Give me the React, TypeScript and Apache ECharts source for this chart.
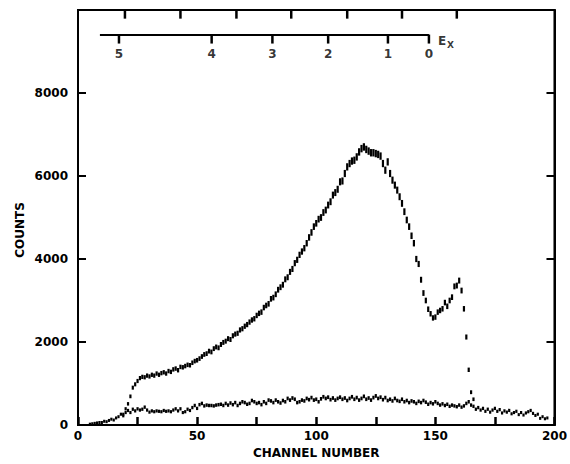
import React, { useEffect, useRef } from "react";
import * as echarts from "echarts";

// Upper spectrum: channel 19 .. 166
const UPPER_START = 19;
const upperCounts = [
  260, 390, 510, 690, 900, 980, 1060, 1130, 1160, 1150, 1190, 1170, 1210, 1190, 1240, 1210,
  1250, 1270, 1240, 1300, 1280, 1340, 1360, 1320, 1400, 1390, 1420, 1450, 1440, 1500, 1540,
  1560, 1600, 1650, 1700, 1720, 1780, 1760, 1840, 1880, 1860, 1940, 1990, 2020, 2080, 2060,
  2150, 2190, 2210, 2290, 2320, 2380, 2420, 2480, 2530, 2560, 2640, 2690, 2720, 2830, 2880,
  2920, 3040, 3070, 3150, 3260, 3320, 3380, 3510, 3560, 3690, 3760, 3900, 3980, 4100, 4180,
  4260, 4380, 4520, 4640, 4780, 4860, 4960, 5000, 5120, 5180, 5300, 5380, 5540, 5600, 5680,
  5860, 5880, 6060, 6220, 6300, 6360, 6380, 6460, 6580, 6660, 6700, 6640, 6600, 6560, 6560,
  6540, 6520, 6480, 6300, 6140, 6340, 6060, 5900, 5780, 5660, 5500, 5340, 5140, 4940, 4780,
  4560, 4380, 4000, 3880, 3500, 3180, 3000, 2790, 2680, 2580, 2600, 2720, 2760, 2800, 2950,
  2860, 3000, 3080, 3340, 3360, 3480, 3240, 2800, 2120, 1330, 790, 620,
];

// Lower spectrum: channel 5 .. 197
const LOWER_START = 5;
const lowerCounts = [
  20, 30, 40, 50, 60, 60, 90, 80, 110, 140, 120, 170, 200, 260, 220, 300, 350, 300, 380, 340,
  390, 360, 380, 430, 360, 310, 340, 320, 340, 330, 320, 350, 330, 340, 320, 360, 390, 340,
  390, 300, 320, 380, 350, 420, 470, 400, 490, 520, 460, 480, 470, 470, 460, 480, 490, 500,
  470, 520, 480, 530, 490, 540, 470, 520, 560, 540, 500, 520, 590, 560, 520, 540, 490, 560,
  520, 600, 580, 540, 600, 560, 530, 590, 560, 640, 600, 650, 620, 540, 560, 600, 580, 640,
  610, 660, 600, 620, 560, 630, 680, 640, 670, 610, 650, 600, 640, 670, 620, 650, 590, 640,
  680, 620, 660, 600, 640, 690, 620, 650, 600, 660, 700, 640, 670, 610, 660, 590, 620, 580,
  640, 590, 570, 620, 560, 590, 540, 580, 560, 520, 570, 540, 590, 550, 500, 540, 510, 560,
  520, 480, 510, 470, 500, 450, 480, 460, 440, 480, 430, 460, 520, 560, 480, 450, 380, 420,
  360, 400, 330, 380, 310, 360, 400, 330, 370, 290, 340, 310, 350, 270, 300, 330, 250, 300,
  240, 290, 320, 350, 280, 230, 260, 160, 200, 150, 170,
];

// Inner excitation-energy scale (E_x) drawn on channel axis
const exLabels = ["5", "4", "3", "2", "1", "0"];
const exChannels = [17.2, 56.1, 81.6, 105.0, 130.1, 147.3];
const EX_START = 9.2;
const EX_LEVEL = 9400;
const EX_TICK_DEPTH = 200; // tick length in counts units (~8 px)

// Ticks along the top frame
const topTickChannels = [19.7, 43, 66.5, 89.5, 113, 136, 159];
const Y_MAX = 10000;

export default function App() {
  const ref = useRef<HTMLDivElement>(null);
  useEffect(() => {
    const chart = echarts.init(ref.current!, null, { renderer: "svg" });
    const ink = "#000000";
    const font = "DejaVu Sans";
    const lab = { color: ink, fontFamily: font, fontWeight: "bold", fontSize: 12 };
    const barSize = (v: number[]) => [2.2, Math.max(3, 2 + Math.sqrt(v[1]) / 15)];
    const upper = upperCounts.map((v, i) => [UPPER_START + i, v]);
    const lower = lowerCounts.map((v, i) => [LOWER_START + i, v]);

    chart.setOption({
      animation: false,
      backgroundColor: "#ffffff",
      grid: {
        left: 78, right: 13, top: 10, bottom: 37,
        show: true, borderColor: ink, borderWidth: 2, backgroundColor: "transparent",
      },
      xAxis: [{
        type: "value", min: 0, max: 200, interval: 25,
        name: "CHANNEL NUMBER", nameLocation: "middle", nameGap: 22,
        nameTextStyle: { ...lab, fontSize: 12 },
        axisLine: { show: true, onZero: false, lineStyle: { color: ink, width: 2 } },
        axisTick: { show: true, inside: true, length: 8, lineStyle: { color: ink, width: 2.5 } },
        axisLabel: { ...lab, margin: 5, formatter: (v: number) => (v % 50 === 0 ? String(v) : "") },
        splitLine: { show: false },
      }],
      yAxis: [{
        type: "value", min: 0, max: Y_MAX, interval: 2000,
        axisLine: { show: true, onZero: false, lineStyle: { color: ink, width: 2 } },
        axisTick: { inside: true, length: 8, lineStyle: { color: ink, width: 2 } },
        axisLabel: { ...lab, margin: 10, formatter: (v: number) => (v >= Y_MAX ? "" : String(v)) },
        splitLine: { show: false },
      }, {
        type: "value", min: 0, max: Y_MAX, interval: 2000, position: "right",
        axisLine: { show: true, onZero: false, lineStyle: { color: ink, width: 2 } },
        axisTick: { inside: true, length: 8, lineStyle: { color: ink, width: 2 } },
        axisLabel: { show: false },
        splitLine: { show: false },
      }],
      graphic: [{
        type: "text", x: 20, y: 230, rotation: Math.PI / 2,
        style: { text: "COUNTS", fill: ink, font: `bold 12px "${font}"`, textAlign: "center", textVerticalAlign: "middle" },
      }],
      series: [
        {
          type: "scatter", name: "upper", data: upper, symbol: "rect", symbolSize: barSize,
          itemStyle: { color: ink, opacity: 1 }, clip: false,
        },
        {
          type: "scatter", name: "lower", data: lower, symbol: "rect", symbolSize: barSize,
          itemStyle: { color: ink, opacity: 1 }, clip: false,
        },
        {
          type: "line", name: "ex-scale", data: [[EX_START, EX_LEVEL], [exChannels[exChannels.length - 1], EX_LEVEL]],
          symbol: "none", lineStyle: { color: ink, width: 2 }, clip: false,
        },
        {
          type: "scatter", name: "ex-ticks",
          data: exChannels.map((c) => [c, EX_LEVEL - EX_TICK_DEPTH / 2]),
          symbol: "rect", symbolSize: [2.5, 9],
          itemStyle: { color: ink, opacity: 1 }, clip: false, z: 10,
        },
        {
          type: "scatter", name: "ex-labels",
          data: exChannels.map((c) => [c, EX_LEVEL]),
          symbolSize: 0,
          label: {
            show: true, position: "inside", offset: [0, 19], ...lab,
            formatter: (p: any) => exLabels[p.dataIndex],
          },
        },
        {
          type: "scatter", name: "top-ticks",
          data: topTickChannels.map((c) => [c, Y_MAX - EX_TICK_DEPTH / 2]),
          symbol: "rect", symbolSize: [2.5, 9],
          itemStyle: { color: ink, opacity: 1 }, clip: false, z: 10,
        },
        {
          type: "scatter", name: "ex-name", data: [[exChannels[exChannels.length - 1], EX_LEVEL]],
          symbolSize: 0,
          label: {
            show: true, position: "right", offset: [4, 6],
            formatter: "{e|E}{s|X}",
            rich: {
              e: { ...lab, fontSize: 12 },
              s: { ...lab, fontSize: 9, padding: [8, 0, 0, 1] },
            },
          },
        },
      ],
    });
    return () => chart.dispose();
  }, []);
  return (
    <div
      ref={ref}
      style={{ position: "absolute", left: 0, top: 0, width: 570, height: 464, background: "#fff" }}
    />
  );
}
